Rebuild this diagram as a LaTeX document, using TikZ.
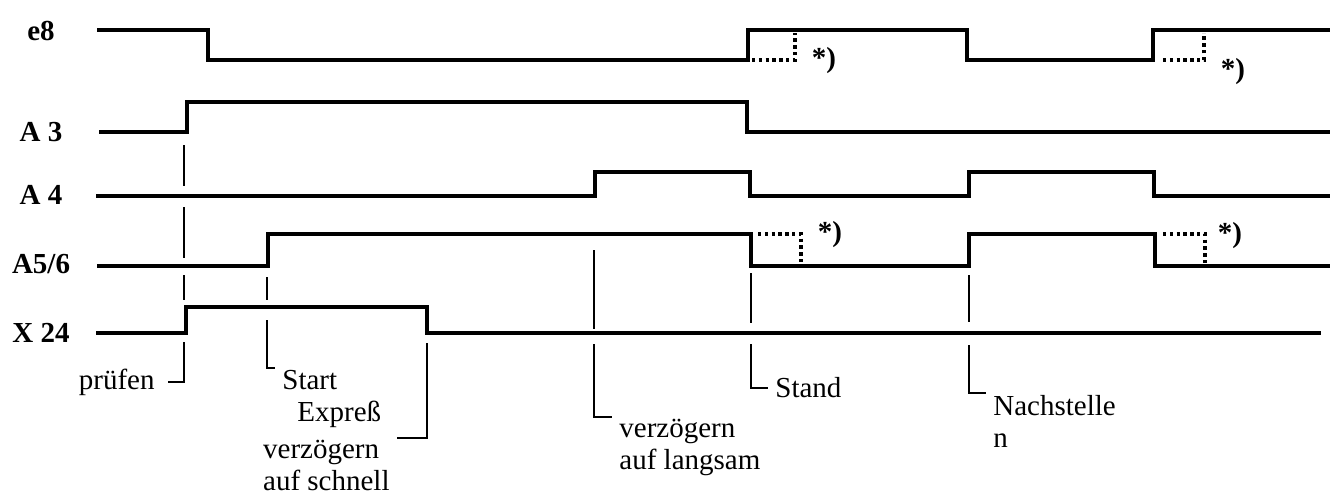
\documentclass[tikz,border=0pt]{standalone}
\usepackage{fontspec}
\setmainfont{Liberation Serif}
\usepackage{tikz}

\begin{document}
\begin{tikzpicture}[x=0.5pt, y=-0.5pt,
  sig/.style={line width=2.4pt},
  hold/.style={line width=1.8pt, dash pattern=on 1.7pt off 1.7pt},
  lead/.style={line width=1pt},
  sname/.style={font=\fontsize{14.5}{16}\selectfont\bfseries, inner sep=0pt},
  star/.style={font=\fontsize{14.5}{16}\selectfont\bfseries, inner sep=0pt},
  txt/.style={font=\fontsize{14.5}{16}\selectfont, align=left,
              inner xsep=3.5pt, inner ysep=1pt}]
\useasboundingbox (0,0) rectangle (1336,500);

% signal names
\node[sname] (e8)  at (41,31)  {e8};
\node[sname] (a3)  at (41,132) {A 3};
\node[sname] (a4)  at (41,195) {A 4};
\node[sname] (a56) at (41,264) {A5/6};
\node[sname] (x24) at (41,333) {X 24};

% waveforms
\draw[sig] (97,30) -- (208,30) -- (208,60) -- (748,60) -- (748,30)
  -- (967,30) -- (967,60) -- (1153,60) -- (1153,30) -- (1330,30);
\draw[sig] (99,132) -- (187,132) -- (187,102) -- (747,102) -- (747,132)
  -- (1330,132);
\draw[sig] (96,196) -- (595,196) -- (595,172) -- (750,172) -- (750,196)
  -- (969,196) -- (969,172) -- (1154,172) -- (1154,196) -- (1330,196);
\draw[sig] (97,266) -- (268,266) -- (268,234) -- (751,234) -- (751,266)
  -- (969,266) -- (969,234) -- (1155,234) -- (1155,266) -- (1330,266);
\draw[sig] (96,333) -- (186,333) -- (186,307) -- (427,307) -- (427,333)
  -- (1321,333);

% delayed edges
\draw[hold] (752,60) -- (795,60) -- (795,33);
\draw[hold] (1163,60) -- (1204,60) -- (1204,33);
\draw[hold] (758,234) -- (801,234) -- (801,264);
\draw[hold] (1163,234) -- (1205,234) -- (1205,266);
\node[star] (s1) at (824,61)  {*)};
\node[star] (s2) at (1233,72) {*)};
\node[star] (s3) at (830,235) {*)};
\node[star] (s4) at (1230,236) {*)};

% event texts
\node[txt, anchor=east, inner xsep=6.5pt] (pruefen) at (168,382) {prüfen};
\node[txt, anchor=north west] (start) at (275,368)
  {Start\\\hspace*{7.5pt}Expreß};
\node[txt, anchor=north east] (schnell) at (397,438)
  {verzögern\\auf schnell};
\node[txt, anchor=north west] (langsam) at (612,417)
  {verzögern\\auf langsam};
\node[txt, anchor=west] (stand) at (768,388) {Stand};
\node[txt, anchor=north west] (nachst) at (986,393) {Nachstelle\\n};

% event marks
\foreach \a/\b in {145/186, 207/258, 275/300}
  \draw[lead] (184,\a) -- (184,\b);
\draw[lead] (184,342) |- (pruefen.east);
\draw[lead] (267,277) -- (267,300);
\draw[lead] (267,320) |- (start.north west);
\draw[lead] (427,343) |- (schnell.north east);
\draw[lead] (594,250) -- (594,329);
\draw[lead] (594,344) |- (langsam.north west);
\draw[lead] (751,273) -- (751,323);
\draw[lead] (751,344) |- (stand.west);
\draw[lead] (969,275) -- (969,322);
\draw[lead] (969,345) |- (nachst.north west);
\end{tikzpicture}
\end{document}
